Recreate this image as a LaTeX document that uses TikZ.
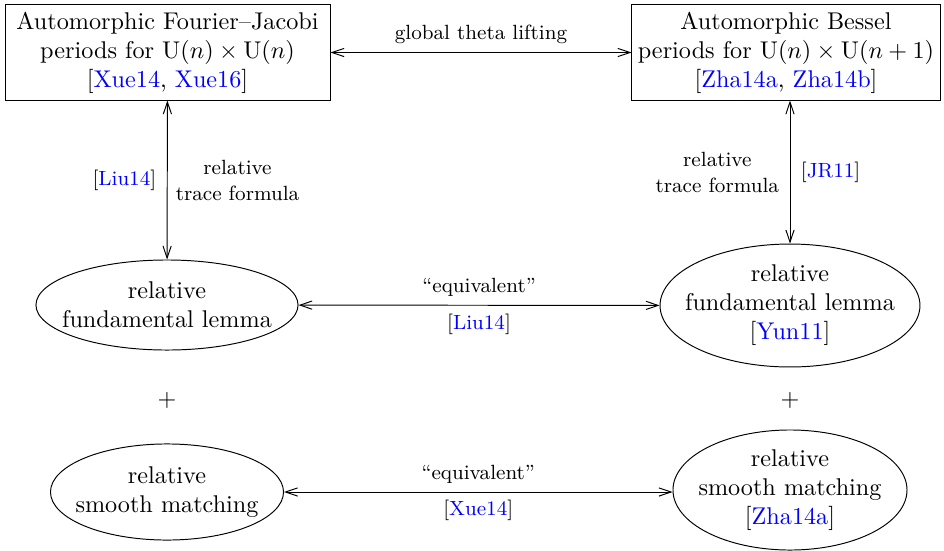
\documentclass[tikz,border=0pt]{standalone}
\usetikzlibrary{shapes.geometric,arrows.meta}
\begin{document}
\begin{tikzpicture}[x=0.4132pt,y=-0.4132pt,
  boxnode/.style={draw,rectangle,align=center,inner sep=0pt},
  ellnode/.style={draw,ellipse,align=center,inner xsep=-30pt,inner ysep=-12pt},
  edgelab/.style={font=\fontsize{8.5}{10.7}\selectfont,align=center},
  link/.style={{Straight Barb[length=5pt,width=3.4pt]}-{Straight Barb[length=5pt,width=3.4pt]}}]
\useasboundingbox (0,0) rectangle (944,550);
\node[boxnode,minimum width=134.3pt,minimum height=39.3pt] (fj) at (167.5,52.5)
  {Automorphic Fourier--Jacobi\\ periods for $\mathrm{U}(n)\times\mathrm{U}(n)$\\ {[}\textcolor{blue}{Xue14}, \textcolor{blue}{Xue16}{]}};
\node[boxnode,minimum width=127.3pt,minimum height=39.3pt] (bes) at (786,52.5)
  {Automorphic Bessel\\ periods for $\mathrm{U}(n)\times\mathrm{U}(n+1)$\\ {[}\textcolor{blue}{Zha14a}, \textcolor{blue}{Zha14b}{]}};
\node[ellnode,minimum width=108.3pt,minimum height=37.2pt] (fl1) at (167,305)
  {relative\\ fundamental lemma};
\node[ellnode,minimum width=107.4pt,minimum height=50.8pt] (fl2) at (790,305.5)
  {relative\\ fundamental lemma\\ {[}\textcolor{blue}{Yun11}{]}};
\node[ellnode,minimum width=96.3pt,minimum height=39.7pt] (sm1) at (167,492)
  {relative\\ smooth matching};
\node[ellnode,minimum width=96.7pt,minimum height=49.6pt] (sm2) at (790,490)
  {relative\\ smooth matching\\ {[}\textcolor{blue}{Zha14a}{]}};
\node (plus1) at (167,400) {$+$};
\node (plus2) at (790,400) {$+$};
\draw[link] (fj) -- node[edgelab,above] {global theta lifting} (bes);
\draw[link] (fj) -- node[edgelab,left,xshift=-1pt] {{[}\textcolor{blue}{Liu14}{]}}
  node[edgelab,right,xshift=0pt] {relative\\ trace formula} (fl1);
\draw[link] (bes.south -| fl2.north) -- node[edgelab,right,xshift=1pt] {{[}\textcolor{blue}{JR11}{]}}
  node[edgelab,left,xshift=-1pt] {relative\\ trace formula} (fl2);
\draw[link] (fl1) -- node[edgelab,above] {``equivalent''}
  node[edgelab,below] {{[}\textcolor{blue}{Liu14}{]}} (fl2);
\draw[link] (sm1.east) -- node[edgelab,above] {``equivalent''}
  node[edgelab,below] {{[}\textcolor{blue}{Xue14}{]}} (sm1.east -| sm2.west);
\end{tikzpicture}
\end{document}
